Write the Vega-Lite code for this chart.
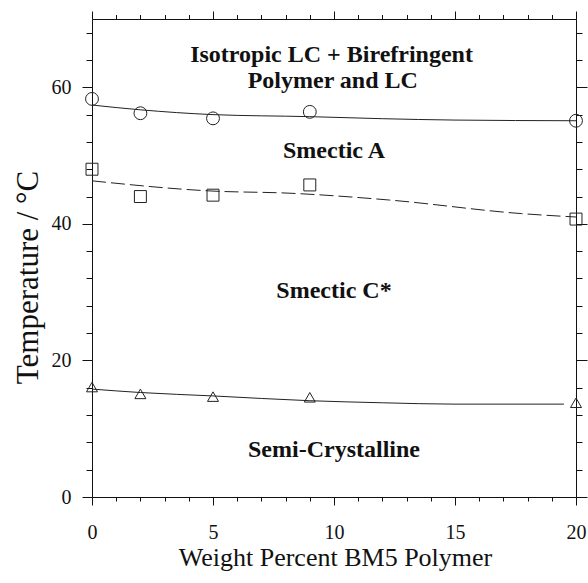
{
  "$schema": "https://vega.github.io/schema/vega-lite/v6.json",
  "width": 484,
  "height": 478,
  "autosize": "none",
  "padding": {"left": 92, "top": 19, "right": 12, "bottom": 86},
  "background": "white",
  "config": {
    "view": {"stroke": null},
    "axis": {
      "grid": false,
      "domainColor": "#111",
      "domainWidth": 1,
      "tickColor": "#111",
      "tickWidth": 1,
      "labelFont": "Times New Roman",
      "labelFontSize": 20,
      "labelColor": "#111",
      "labelFlush": false,
      "labelOverlap": false,
      "titleFont": "Times New Roman",
      "titleFontWeight": "normal",
      "titleColor": "#111"
    }
  },
  "datasets": {
    "obs": [
      {"wt": 0, "T": 58.3, "transition": "clearing"},
      {"wt": 2, "T": 56.2, "transition": "clearing"},
      {"wt": 5, "T": 55.45, "transition": "clearing"},
      {"wt": 9, "T": 56.4, "transition": "clearing"},
      {"wt": 20, "T": 55.1, "transition": "clearing"},
      {"wt": 0, "T": 48.0, "transition": "SmA-SmC"},
      {"wt": 2, "T": 44.0, "transition": "SmA-SmC"},
      {"wt": 5, "T": 44.2, "transition": "SmA-SmC"},
      {"wt": 9, "T": 45.7, "transition": "SmA-SmC"},
      {"wt": 20, "T": 40.7, "transition": "SmA-SmC"},
      {"wt": 0, "T": 16.1, "transition": "melting"},
      {"wt": 2, "T": 15.1, "transition": "melting"},
      {"wt": 5, "T": 14.7, "transition": "melting"},
      {"wt": 9, "T": 14.6, "transition": "melting"},
      {"wt": 20, "T": 13.8, "transition": "melting"}
    ],
    "fit": [
      {"wt": 0, "T": 57.4, "transition": "clearing"},
      {"wt": 2, "T": 56.7, "transition": "clearing"},
      {"wt": 5, "T": 56.0, "transition": "clearing"},
      {"wt": 9, "T": 55.7, "transition": "clearing"},
      {"wt": 12, "T": 55.4, "transition": "clearing"},
      {"wt": 15, "T": 55.2, "transition": "clearing"},
      {"wt": 20, "T": 55.1, "transition": "clearing"},
      {"wt": 0, "T": 46.3, "transition": "SmA-SmC"},
      {"wt": 5, "T": 44.8, "transition": "SmA-SmC"},
      {"wt": 8.1, "T": 44.5, "transition": "SmA-SmC"},
      {"wt": 12.25, "T": 43.5, "transition": "SmA-SmC"},
      {"wt": 17.75, "T": 41.5, "transition": "SmA-SmC"},
      {"wt": 20, "T": 41.0, "transition": "SmA-SmC"},
      {"wt": 0, "T": 15.8, "transition": "melting"},
      {"wt": 2, "T": 15.3, "transition": "melting"},
      {"wt": 5, "T": 14.8, "transition": "melting"},
      {"wt": 9, "T": 14.1, "transition": "melting"},
      {"wt": 12, "T": 13.8, "transition": "melting"},
      {"wt": 15, "T": 13.6, "transition": "melting"},
      {"wt": 19.5, "T": 13.6, "transition": "melting"}
    ],
    "phases": [
      {"wt": 9.9, "T": 63.7, "phase": "Isotropic LC + Birefringent"},
      {"wt": 9.95, "T": 59.9, "phase": "Polymer and LC"},
      {"wt": 10, "T": 49.6, "phase": "Smectic A"},
      {"wt": 10, "T": 29.1, "phase": "Smectic C*"},
      {"wt": 10, "T": 5.9, "phase": "Semi-Crystalline"}
    ]
  },
  "layer": [
    {
      "encoding": {
        "x": {
          "field": "wt",
          "type": "quantitative",
          "scale": {"domain": [0, 20], "nice": false, "zero": false},
          "axis": {
            "orient": "bottom",
            "values": [0, 1, 2, 3, 4, 5, 6, 7, 8, 9, 10, 11, 12, 13, 14, 15, 16, 17, 18, 19, 20],
            "labelExpr": "datum.value % 5 === 0 ? datum.label : ''",
            "tickSize": {"condition": {"test": "datum.value % 5 === 0", "value": 8}, "value": 4},
            "labelPadding": 17,
            "title": "Weight Percent BM5 Polymer",
            "titleFontSize": 26,
            "titleX": 243,
            "titleY": 68,
            "titleBaseline": "alphabetic"
          }
        },
        "y": {
          "field": "T",
          "type": "quantitative",
          "scale": {"domain": [0, 70], "nice": false, "zero": false},
          "axis": {
            "orient": "left",
            "values": [0, 4, 8, 12, 16, 20, 24, 28, 32, 36, 40, 44, 48, 52, 56, 60, 64, 68],
            "labelExpr": "datum.value % 20 === 0 ? datum.label : ''",
            "tickSize": {"condition": {"test": "datum.value % 20 === 0", "value": 10}, "value": 6},
            "labelPadding": 11,
            "title": "Temperature / °C",
            "titleFontSize": 31,
            "titleAngle": -90,
            "titleX": -55,
            "titleY": 258,
            "titleBaseline": "alphabetic"
          }
        }
      },
      "layer": [
        {
          "data": {"name": "fit"},
          "transform": [{"filter": "datum.transition !== 'SmA-SmC'"}],
          "mark": {"type": "line", "interpolate": "monotone", "color": "#222", "strokeWidth": 1},
          "encoding": {"detail": {"field": "transition"}}
        },
        {
          "data": {"name": "fit"},
          "transform": [{"filter": "datum.transition === 'SmA-SmC'"}],
          "mark": {"type": "line", "interpolate": "monotone", "color": "#222", "strokeWidth": 1, "strokeDash": [14, 5]},
          "encoding": {}
        },
        {
          "data": {"name": "obs"},
          "mark": {"type": "point", "filled": false, "color": "#222", "strokeWidth": 1, "opacity": 1},
          "encoding": {
            "shape": {
              "field": "transition",
              "type": "nominal",
              "scale": {"domain": ["clearing", "SmA-SmC", "melting"], "range": ["circle", "square", "triangle-up"]},
              "legend": null
            },
            "size": {
              "field": "transition",
              "type": "nominal",
              "scale": {"domain": ["clearing", "SmA-SmC", "melting"], "range": [165, 121, 150]},
              "legend": null
            }
          }
        }
      ]
    },
    {
      "data": {"name": "phases"},
      "mark": {
        "type": "text",
        "font": "Times New Roman",
        "fontWeight": "bold",
        "fontSize": 24,
        "align": "center",
        "baseline": "alphabetic",
        "color": "#111"
      },
      "encoding": {
        "x": {
          "field": "wt",
          "type": "quantitative",
          "scale": {"domain": [0, 20], "nice": false, "zero": false},
          "axis": {
            "orient": "top",
            "values": [0, 1, 2, 3, 4, 5, 6, 7, 8, 9, 10, 11, 12, 13, 14, 15, 16, 17, 18, 19, 20],
            "labels": false,
            "tickSize": {"condition": {"test": "datum.value % 5 === 0", "value": 8}, "value": 4.5},
            "title": null
          }
        },
        "y": {
          "field": "T",
          "type": "quantitative",
          "scale": {"domain": [0, 70], "nice": false, "zero": false},
          "axis": {
            "orient": "right",
            "values": [0, 4, 8, 12, 16, 20, 24, 28, 32, 36, 40, 44, 48, 52, 56, 60, 64, 68],
            "labels": false,
            "tickSize": {"condition": {"test": "datum.value % 20 === 0", "value": 11}, "value": 6},
            "title": null
          }
        },
        "text": {"field": "phase"}
      }
    }
  ],
  "resolve": {"axis": {"x": "independent", "y": "independent"}}
}
